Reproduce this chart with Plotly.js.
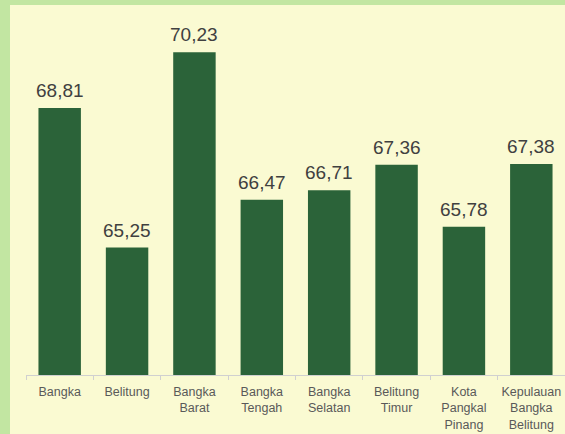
<!DOCTYPE html>
<html>
<head>
<meta charset="utf-8">
<script src="https://cdn.plot.ly/plotly-3.0.1.min.js"></script>
<style>
  html, body { margin: 0; padding: 0; background: #c2e6a2; }
  #chart { position: absolute; left: 10px; top: 5px; width: 555px; height: 429px; }
</style>
</head>
<body>
<div id="chart"></div>
<script>
// Regions
const regions = [
    "Bangka",
    "Belitung",
    "Bangka<br>Barat",
    "Bangka<br>Tengah",
    "Bangka<br>Selatan",
    "Belitung<br>Timur",
    "Kota<br>Pangkal<br>Pinang",
    "Kepulauan<br>Bangka<br>Belitung"
];

// Values per region
const values = [68.81, 65.25, 70.23, 66.47, 66.71, 67.36, 65.78, 67.38];

const trace = {
    type: 'bar',
    x: regions,
    y: values,
    marker: { color: '#2b6339' },
    hoverinfo: 'none'
};

// value labels above the bars
const labels = regions.map((r, i) => ({
    x: r,
    y: values[i],
    text: values[i].toFixed(2).replace('.', ','),
    showarrow: false,
    yanchor: 'bottom',
    yshift: 5,
    font: { family: 'Liberation Sans, Arial, sans-serif', size: 19, color: '#404040' }
}));

const layout = {
    width: 555,
    height: 429,
    margin: { l: 16, r: 0, t: 17, b: 59 },
    paper_bgcolor: '#fafad2',
    plot_bgcolor: '#fafad2',
    bargap: 0.37,
    showlegend: false,
    font: { family: 'Liberation Sans, Arial, sans-serif' },
    annotations: labels,
    xaxis: {
        showline: true,
        linecolor: '#d0d0d0',
        linewidth: 1,
        ticks: 'outside',
        tickson: 'boundaries',
        ticklen: 4,
        tickcolor: '#d0d0d0',
        tickangle: 0,
        ticklabelstandoff: 5,
        tickfont: { size: 12.5, color: '#595959' },
        fixedrange: true
    },
    yaxis: {
        range: [62, 71],
        visible: false,
        showgrid: false,
        fixedrange: true
    }
};

Plotly.newPlot('chart', [trace], layout, { displayModeBar: false });
</script>
</body>
</html>
